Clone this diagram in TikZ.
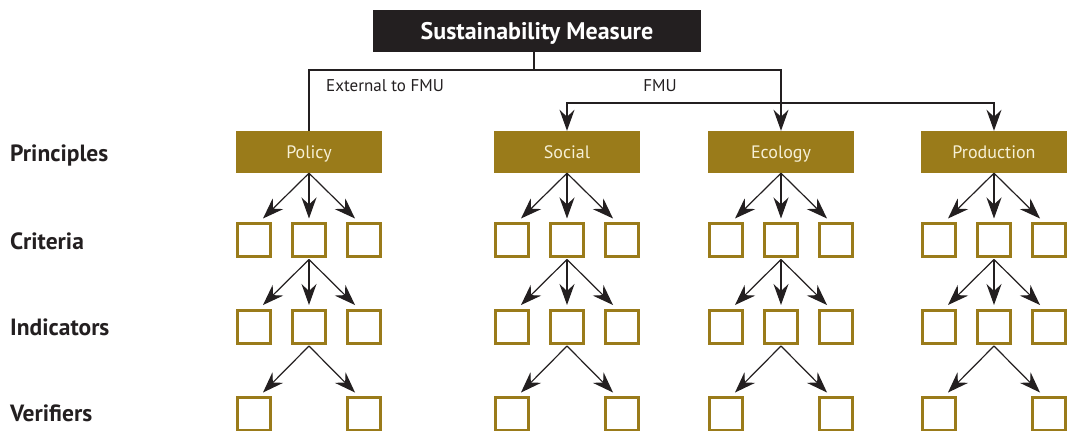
\documentclass[tikz,border=0pt]{standalone}
\usepackage{fontspec}
\setmainfont{PT Sans}
\usetikzlibrary{arrows.meta}
\definecolor{gold}{HTML}{9A7B1A}
\definecolor{cream}{HTML}{F6F0D6}
\definecolor{ink}{HTML}{231F20}
\tikzset{
  titlebox/.style={fill=ink, text=white, font=\fontsize{24}{28}\selectfont\bfseries, minimum width=328pt, minimum height=42pt, inner sep=0pt, text height=17pt, text depth=0pt},
  pbox/.style={fill=gold, text=cream, font=\fontsize{18}{21}\selectfont, minimum width=146pt, minimum height=42pt, inner sep=0pt, text height=12.6pt, text depth=0pt},
  sbox/.style={draw=gold, line width=3pt, minimum size=33pt, inner sep=0pt},
  rowlabel/.style={anchor=west, font=\fontsize{23.5}{27}\selectfont\bfseries, text=ink, inner sep=0pt, text height=16.5pt, text depth=0pt},
  branchlabel/.style={font=\fontsize{17}{20}\selectfont, text=ink, inner sep=0pt, text height=12pt, text depth=0pt},
  conn/.style={draw=ink, line width=1.2pt},
  arr/.style={conn, -{Stealth[length=21pt, width=15pt, inset=7pt]}},
  darr/.style={conn, {Stealth[length=21pt, width=15pt, inset=7pt]}-{Stealth[length=21pt, width=15pt, inset=7pt]}}
}
\begin{document}
\begin{tikzpicture}[x=1pt, y=-1pt]
\useasboundingbox (0,0) rectangle (1071,431);

% title
\node[titlebox] (top) at (537,31) {Sustainability Measure};

% row labels
\node[rowlabel] (lp) at (10,153) {Principles};
\node[rowlabel] (lc) at (10,241) {Criteria};
\node[rowlabel] (li) at (10,327) {Indicators};
\node[rowlabel] (lv) at (10,413) {Verifiers};

% principles
\node[pbox] (policy) at (309,152) {Policy};
\node[pbox] (social) at (567,152) {Social};
\node[pbox] (ecology) at (781,152) {Ecology};
\node[pbox] (production) at (994,152) {Production};

% top connectors
\coordinate (j) at (534,70);
\coordinate (fm) at (994,103);
\draw[conn] ([xshift=-3pt]top.south) -- (j);
\draw[arr] (policy.north) |- (j) -| (ecology.north);
\draw[darr] (social.north) |- (fm) -- (production.north);
\node[branchlabel, anchor=west] (ext) at (326,85) {External to FMU};
\node[branchlabel] (fmu) at (660,85) {FMU};

% small boxes and arrows
\foreach \p in {policy,social,ecology,production}{
  \foreach \r/\y in {c/240, i/326.5}{
    \node[sbox] (\p-\r-l) at ([xshift=-55pt]\p.center |- 0,\y) {};
    \node[sbox] (\p-\r-m) at (\p.center |- 0,\y) {};
    \node[sbox] (\p-\r-r) at ([xshift=55pt]\p.center |- 0,\y) {};
  }
  \node[sbox] (\p-v-l) at ([xshift=-55pt]\p.center |- 0,414) {};
  \node[sbox] (\p-v-r) at ([xshift=55pt]\p.center |- 0,414) {};
  % principle -> criteria
  \draw[arr] (\p.south) -- ([xshift=-9pt,yshift=3.5pt]\p-c-l.north east);
  \draw[arr] (\p.south) -- ([yshift=3.5pt]\p-c-m.north);
  \draw[arr] (\p.south) -- ([xshift=9pt,yshift=3.5pt]\p-c-r.north west);
  % criteria -> indicators
  \draw[arr] ([yshift=-1.5pt]\p-c-m.south) -- ([xshift=-9pt,yshift=3.5pt]\p-i-l.north east);
  \draw[arr] ([yshift=-1.5pt]\p-c-m.south) -- ([yshift=3.5pt]\p-i-m.north);
  \draw[arr] ([yshift=-1.5pt]\p-c-m.south) -- ([xshift=9pt,yshift=3.5pt]\p-i-r.north west);
  % indicators -> verifiers
  \draw[arr] ([yshift=-1.5pt]\p-i-m.south) -- ([xshift=-9pt,yshift=3.5pt]\p-v-l.north east);
  \draw[arr] ([yshift=-1.5pt]\p-i-m.south) -- ([xshift=9pt,yshift=3.5pt]\p-v-r.north west);
}
\end{tikzpicture}
\end{document}
